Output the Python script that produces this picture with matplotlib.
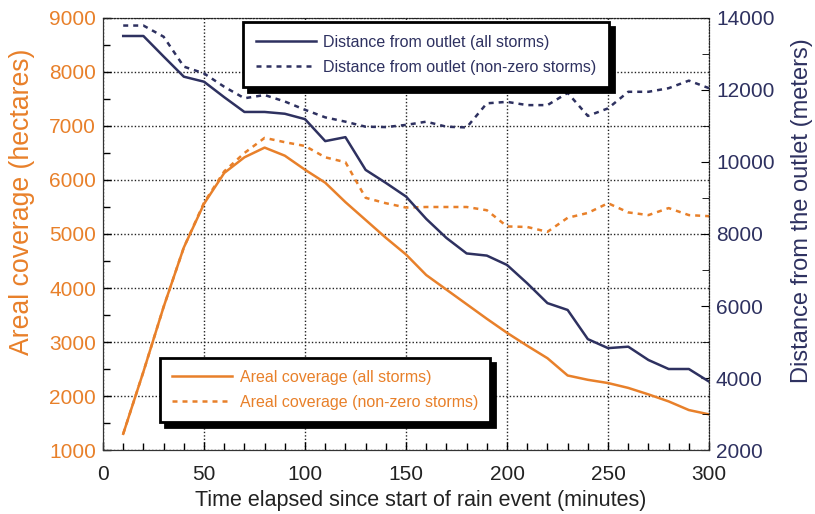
import matplotlib
matplotlib.use("Agg")
import matplotlib.pyplot as plt
from matplotlib.ticker import MultipleLocator

plt.rcParams['font.family'] = ['Liberation Sans', 'DejaVu Sans']

minutes = [10, 20, 30, 40, 50, 60, 70, 80, 90, 100, 110, 120, 130, 140, 150,
           160, 170, 180, 190, 200, 210, 220, 230, 240, 250, 260, 270, 280, 290, 300]

area_all = [1300, 2450, 3650, 4750, 5560, 6130, 6420, 6600, 6450, 6190, 5950, 5590, 5260, 4930, 4620,
            4240, 3970, 3700, 3430, 3170, 2930, 2700, 2380, 2300, 2240, 2150, 2030, 1900, 1740, 1660]
area_nonzero = [1300, 2450, 3650, 4750, 5580, 6160, 6500, 6780, 6700, 6630, 6420, 6330, 5670, 5570, 5490,
                5500, 5500, 5500, 5440, 5140, 5130, 5040, 5300, 5390, 5570, 5400, 5350, 5480, 5350, 5330]

dist_all = [13500, 13500, 12930, 12370, 12230, 11800, 11390, 11390, 11340, 11190, 10580, 10690, 9780, 9420, 9040,
            8420, 7890, 7460, 7400, 7140, 6630, 6080, 5890, 5080, 4830, 4870, 4500, 4250, 4250, 3900]
dist_nonzero = [13790, 13790, 13480, 12650, 12460, 12090, 11770, 11860, 11680, 11450, 11240, 11120, 10980, 10970, 11030,
                11120, 10980, 10960, 11630, 11670, 11580, 11580, 11920, 11280, 11490, 11950, 11950, 12050, 12260, 12050]

ORANGE = '#E8802A'
NAVY = '#2E3160'

fig = plt.figure(figsize=(8.15, 5.14), dpi=100)
ax1 = fig.add_axes([0.1264, 0.1245, 0.7436, 0.8405])
ax2 = ax1.twinx()

la1, = ax1.plot(minutes, area_all, color=ORANGE, lw=1.8, label='Areal coverage (all storms)')
la2, = ax1.plot(minutes, area_nonzero, color=ORANGE, lw=1.8, ls=(0, (2, 2)), label='Areal coverage (non-zero storms)')
ld1, = ax2.plot(minutes, dist_all, color=NAVY, lw=1.8, label='Distance from outlet (all storms)')
ld2, = ax2.plot(minutes, dist_nonzero, color=NAVY, lw=1.8, ls=(0, (2, 2)), label='Distance from outlet (non-zero storms)')

ax1.set_xlim(0, 300)
ax1.set_ylim(1000, 9000)
ax2.set_ylim(2000, 14000)

ax1.xaxis.set_major_locator(MultipleLocator(50))
ax1.xaxis.set_minor_locator(MultipleLocator(10))
ax1.yaxis.set_major_locator(MultipleLocator(1000))
ax1.yaxis.set_minor_locator(MultipleLocator(500))
ax2.yaxis.set_major_locator(MultipleLocator(2000))
ax2.yaxis.set_minor_locator(MultipleLocator(1000))

ax1.grid(True, which='major', color='#222222', ls=(0, (1, 1.5)), lw=1.0)

ax1.tick_params(axis='both', which='both', direction='in', top=False, right=False, labelsize=15)
ax1.tick_params(axis='both', which='major', length=6, width=1)
ax1.tick_params(axis='both', which='minor', length=5, width=1)
ax1.tick_params(axis='y', labelcolor=ORANGE, pad=5)
ax1.tick_params(axis='x', labelcolor='#222222', pad=10.5)
ax2.tick_params(axis='y', which='both', direction='in', labelsize=15, labelcolor=NAVY, pad=5)
ax2.tick_params(axis='y', which='major', length=6)
ax2.tick_params(axis='y', which='minor', length=5)

for a in (ax1, ax2):
    a.spines['top'].set_linestyle((0, (1, 1.5)))
    a.spines['top'].set_color('#222222')
    a.spines['right'].set_linestyle((0, (1, 1.5)))
    a.spines['right'].set_color('#222222')
    a.spines['left'].set_color('#333333')
    a.spines['bottom'].set_color('#333333')

ax1.set_xlabel('Time elapsed since start of rain event (minutes)', fontsize=15.5, color='#222222')
ax1.xaxis.set_label_coords(0.5248, -0.0926)
ax1.set_ylabel('Areal coverage (hectares)', fontsize=19.2, color=ORANGE)
ax1.yaxis.set_label_coords(-0.112, 0.574)
ax2.set_ylabel('Distance from the outlet (meters)', fontsize=17.0, color=NAVY)
ax2.yaxis.set_label_coords(1.136, 0.553)

shadow = {'ox': 3.5, 'oy': -3.5, 'color': 'black', 'alpha': 1}
leg1 = ax2.legend(handles=[ld1, ld2], loc='upper left', bbox_to_anchor=(0.231, 0.9907),
                  fontsize=11.5, frameon=True, fancybox=False, shadow=shadow, edgecolor='black',
                  framealpha=1, handlelength=3.75, handletextpad=0.45, borderpad=0.8,
                  labelspacing=0.62, borderaxespad=0)
leg1.get_frame().set_linewidth(2)
for t in leg1.get_texts():
    t.set_color(NAVY)
ax2.add_artist(leg1)
leg2 = ax2.legend(handles=[la1, la2], loc='upper left', bbox_to_anchor=(0.094, 0.213),
                  fontsize=11.5, frameon=True, fancybox=False, shadow=shadow, edgecolor='black',
                  framealpha=1, handlelength=3.75, handletextpad=0.5, borderpad=0.75,
                  labelspacing=0.62, borderaxespad=0)
leg2.get_frame().set_linewidth(2)
for t in leg2.get_texts():
    t.set_color(ORANGE)

fig.savefig('out.png', dpi=100)
